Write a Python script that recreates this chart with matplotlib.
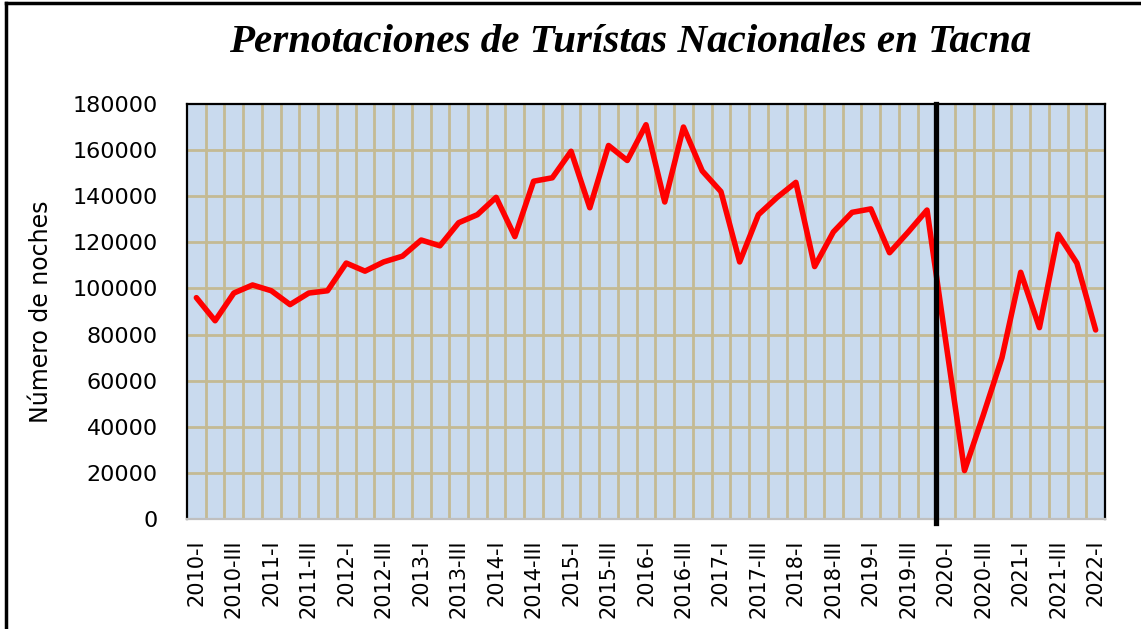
import matplotlib
matplotlib.use("Agg")
import matplotlib.pyplot as plt
from matplotlib.lines import Line2D

# ----------------------------
# Data (quarterly, 2010-I .. 2022-I)
# ----------------------------
years = list(range(2010, 2023))
quarters = ["I", "II", "III", "IV"]
periods = [f"{y}-{q}" for y in years for q in quarters][:49]

noches = [96000, 86000, 98000, 101500, 99000, 93000, 98000, 99000,
          111000, 107500, 111500, 114000, 121000, 118500, 128500, 132000,
          139500, 122500, 146500, 148000, 159500, 135000, 162000, 155500,
          171000, 137500, 170000, 151000, 142000, 111500, 132000, 139500,
          146000, 109500, 124500, 133000, 134500, 115500, 124500, 134000,
          77000, 21000, 45000, 70000, 107000, 83000, 123500, 111000,
          82000]

y_ticks = [0, 20000, 40000, 60000, 80000, 100000, 120000, 140000, 160000, 180000]
corte = "2020-I"   # start of pandemic marker

# ----------------------------
# Figure
# ----------------------------
W, H = 1141, 629
fig = plt.figure(figsize=(W / 100, H / 100), dpi=100)
ax = fig.add_axes([187 / W, (H - 519) / H, (1105 - 187) / W, (519 - 104) / H])

ax.set_facecolor("#C9DAEE")
x = list(range(len(noches)))

# grid: vertical lines on category boundaries, horizontal on y ticks
grid_col = "#C4BA94"
for k in range(1, len(noches)):
    ax.axvline(k - 0.5, color=grid_col, lw=2.0, zorder=1)
for v in y_ticks[1:-1]:
    ax.axhline(v, color=grid_col, lw=2.0, zorder=1)

ax.plot(x, noches, color="#FF0000", lw=4.0, solid_joinstyle="round",
        solid_capstyle="round", zorder=3)

# pandemic marker
xc = periods.index(corte) - 0.5
ax.axvline(xc, ymin=-0.01, ymax=1.0, color="black", lw=3.8, zorder=4, clip_on=False)

ax.set_xlim(-0.5, len(noches) - 0.5)
ax.set_ylim(0, 180000)
ax.set_yticks(y_ticks)
ax.set_yticklabels([str(v) for v in y_ticks], fontsize=16, family="DejaVu Sans")
ax.set_xticks(x[::2])
ax.set_xticklabels(periods[::2], rotation=90, fontsize=15, family="DejaVu Sans")
ax.tick_params(axis="y", length=0, pad=21)
ax.tick_params(axis="x", length=0, pad=15)

for s in ["left", "top", "right"]:
    ax.spines[s].set_color("black")
    ax.spines[s].set_linewidth(1.6)
ax.spines["bottom"].set_color("#BFBFBF")
ax.spines["bottom"].set_linewidth(1.6)

# titles
fig.text(630 / W, 1 - 43 / H, "Pernotaciones de Turístas Nacionales en Tacna",
         ha="center", va="center", fontsize=29.5, family="Liberation Serif",
         fontweight="bold", fontstyle="italic")
fig.text(41 / W, 1 - 312 / H, "Número de noches", rotation=90,
         ha="center", va="center", fontsize=17, family="DejaVu Sans")

# outer frame (top and left only)
fig.add_artist(Line2D([6 / W, 1], [1 - 3 / H, 1 - 3 / H], color="black", lw=2.5,
                      transform=fig.transFigure))
fig.add_artist(Line2D([6 / W, 6 / W], [0, 1 - 3 / H], color="black", lw=2.5,
                      transform=fig.transFigure))

fig.savefig("out.png", dpi=100)
plt.close(fig)
